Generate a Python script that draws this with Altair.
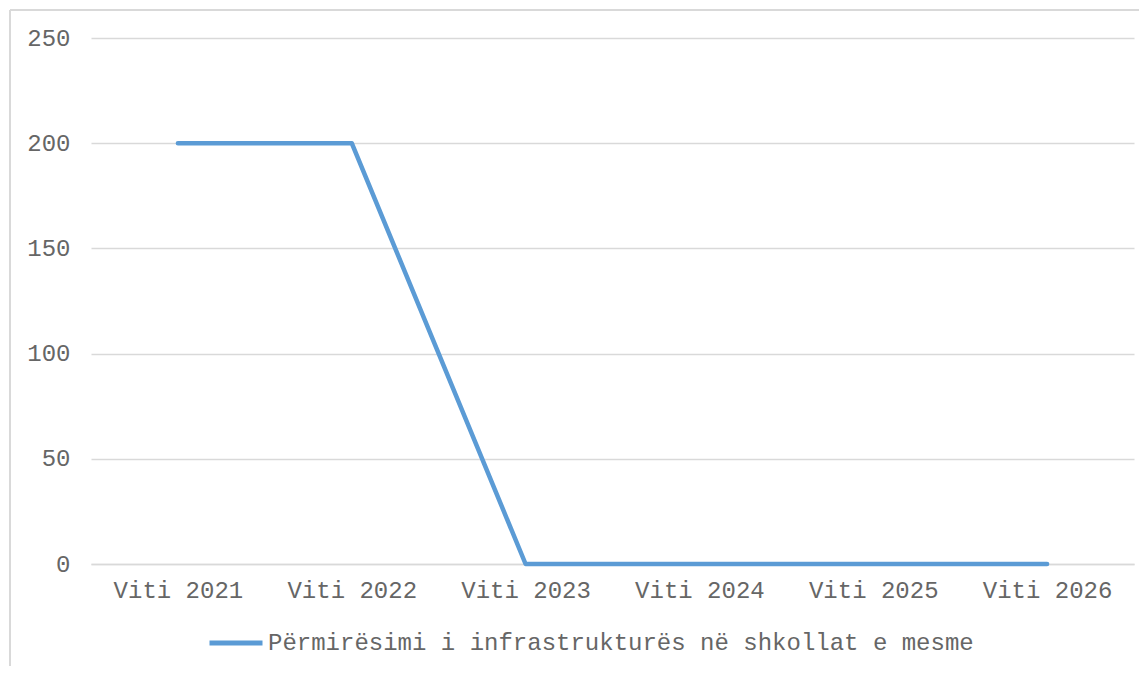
import altair as alt
import pandas as pd

years = ["Viti 2021", "Viti 2022", "Viti 2023", "Viti 2024", "Viti 2025", "Viti 2026"]
values = [200, 200, 0, 0, 0, 0]
series_name = "Përmirësimi i infrastrukturës në shkollat e mesme"

df = pd.DataFrame({"year": years, "value": values, "series": [series_name] * len(years)})

FONT = "Liberation Mono"
TXT = "#666666"
W, H = 1043, 526

line = alt.Chart(df).mark_line(strokeWidth=4.5, strokeCap="round", strokeJoin="round").encode(
    x=alt.X("year:N", sort=years, title=None,
            scale=alt.Scale(type="point", padding=0.5),
            axis=alt.Axis(labelAngle=0, labelFont=FONT, labelFontSize=24, labelColor=TXT,
                          labelPadding=14, ticks=False, domainColor="#d9d9d9", domainWidth=1.5,
                          grid=False)),
    y=alt.Y("value:Q", title=None,
            scale=alt.Scale(domain=[0, 250], nice=False),
            axis=alt.Axis(values=[0, 50, 100, 150, 200, 250], labelFont=FONT, labelFontSize=24,
                          labelColor=TXT, labelPadding=21, ticks=False, domain=False,
                          gridColor="#d9d9d9", gridWidth=1.5)),
    color=alt.Color("series:N", scale=alt.Scale(range=["#5b9bd5"]),
                    legend=alt.Legend(title=None, orient="none", legendX=116, legendY=576,
                                      symbolType="stroke", symbolSize=2809, symbolStrokeWidth=5,
                                      labelFont=FONT, labelFontSize=24, labelColor=TXT,
                                      labelOffset=3, labelLimit=1000)),
)

border_left = alt.Chart(df).mark_rule(color="#d9d9d9", strokeWidth=1.5).encode(
    x=alt.value(-81), y=alt.value(-28), y2=alt.value(H + 110))
border_top = alt.Chart(df).mark_rule(color="#d9d9d9", strokeWidth=1.5).encode(
    x=alt.value(-81), x2=alt.value(W + 10), y=alt.value(-28))

chart = alt.layer(border_left, border_top, line).properties(
    width=W, height=H,
    autosize=alt.AutoSizeParams(type="none"),
    padding={"left": 83, "top": 30, "right": 5, "bottom": 102},
).configure(background="white").configure_view(stroke=None)

chart.save("out.html", embed_options={"renderer": "svg", "actions": False})
